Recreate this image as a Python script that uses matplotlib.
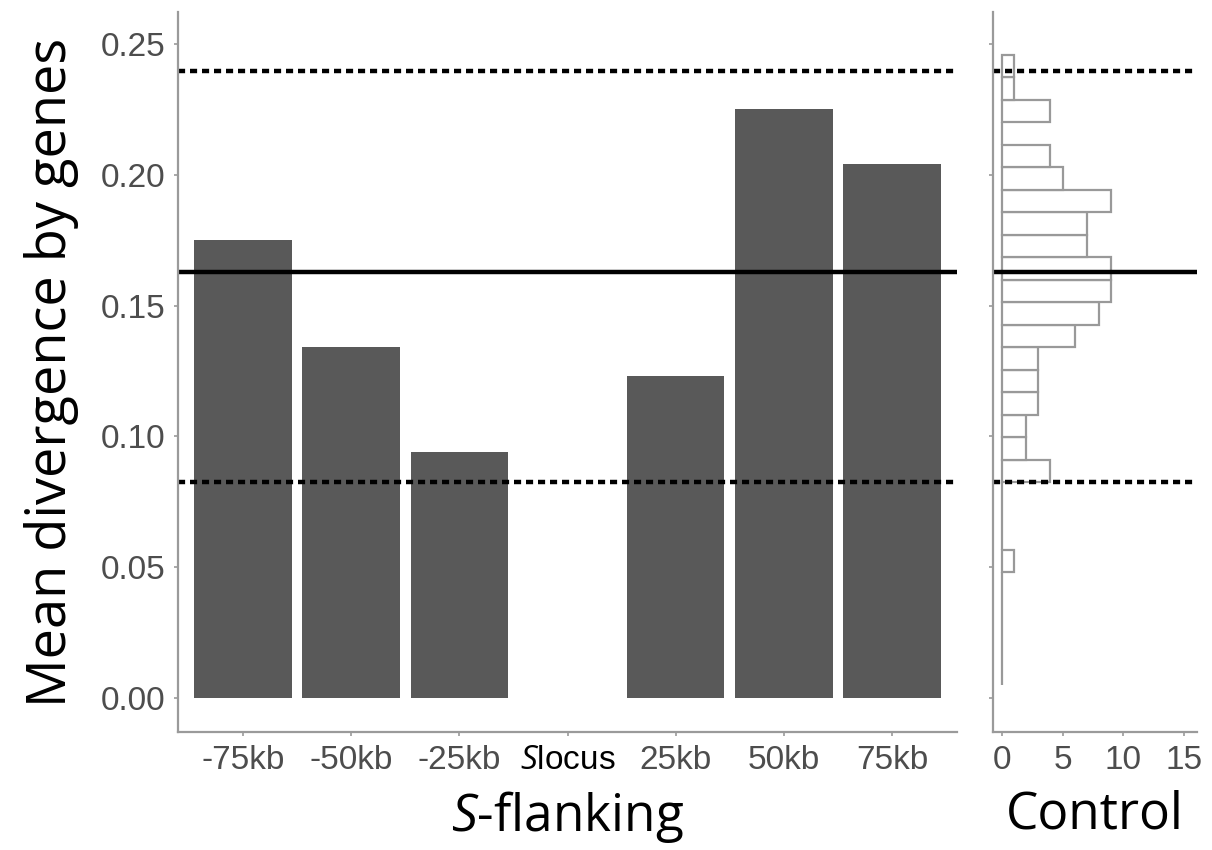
import numpy as np
import matplotlib.pyplot as plt

plt.rcParams['font.family'] = ['Liberation Sans', 'DejaVu Sans']
plt.rcParams['mathtext.fontset'] = 'custom'
plt.rcParams['mathtext.it'] = 'Open Sans:italic'
plt.rcParams['mathtext.rm'] = 'Open Sans'

# S-flanking windows
windows = ['-75kb', '-50kb', '-25kb', r'$\mathit{S}$locus', '25kb', '50kb', '75kb']
divergence = [0.175, 0.134, 0.094, np.nan, 0.123, 0.225, 0.204]

# control distribution (binned counts, bottom to top)
bin_start = 0.0051
bin_width = 0.0086
control_counts = [0, 0, 0, 0, 0, 1, 0, 0, 0, 4, 2, 2, 3, 3, 3, 6, 8, 9, 9, 7,
                  7, 9, 5, 4, 0, 4, 1, 1]

# reference lines
mean_line = 0.1628
low_line = 0.0826
high_line = 0.2397

grey_txt = '#4d4d4d'
axis_col = '#9a9a9a'

fig = plt.figure(figsize=(12.12, 8.5), dpi=100)
ax = fig.add_axes([0.1469, 0.1388, 0.6427, 0.8471])
axh = fig.add_axes([0.8193, 0.1388, 0.1683, 0.8471])

x = np.arange(1, len(windows) + 1)
ax.bar(x, divergence, width=0.9, color='#595959')
ax.set_xlim(0.4, 7.6)
ax.set_ylim(-0.013, 0.2622)
ax.set_xticks(x)
ax.set_xticklabels(windows)
ax.set_yticks([0, 0.05, 0.10, 0.15, 0.20, 0.25])
ax.set_yticklabels(['0.00', '0.05', '0.10', '0.15', '0.20', '0.25'])

edges = bin_start + bin_width * np.arange(len(control_counts))
axh.barh(edges, control_counts, height=bin_width, align='edge',
         color='white', edgecolor='#999999', linewidth=1.6)
axh.set_xlim(-0.75, 16.1)
axh.set_ylim(ax.get_ylim())
axh.set_xticks([0, 5, 10, 15])
axh.set_yticks([0, 0.05, 0.10, 0.15, 0.20, 0.25])
axh.set_yticklabels([])

for a in (ax, axh):
    a.axhline(mean_line, color='black', lw=3.2)
    a.axhline(low_line, color='black', lw=3.2, linestyle=(0, (1.6, 1.1)))
    a.axhline(high_line, color='black', lw=3.2, linestyle=(0, (1.6, 1.1)))
    for s in ('top', 'right'):
        a.spines[s].set_visible(False)
    for s in ('left', 'bottom'):
        a.spines[s].set_color(axis_col)
        a.spines[s].set_linewidth(1.6)
    a.tick_params(colors=axis_col, labelcolor=grey_txt, labelsize=24,
                  length=3, width=1.2, pad=6)

# the S locus label is set in black like the original
ax.get_xticklabels()[3].set_color('black')

ax.set_ylabel('Mean divergence by genes', fontsize=39, family='Open Sans', labelpad=16)
ax.set_xlabel(r'$\mathit{S}$-flanking', fontsize=37, family='Open Sans', labelpad=10)
axh.set_xlabel('Control', fontsize=37, family='Open Sans', labelpad=10)

fig.savefig('out.png', dpi=100)
